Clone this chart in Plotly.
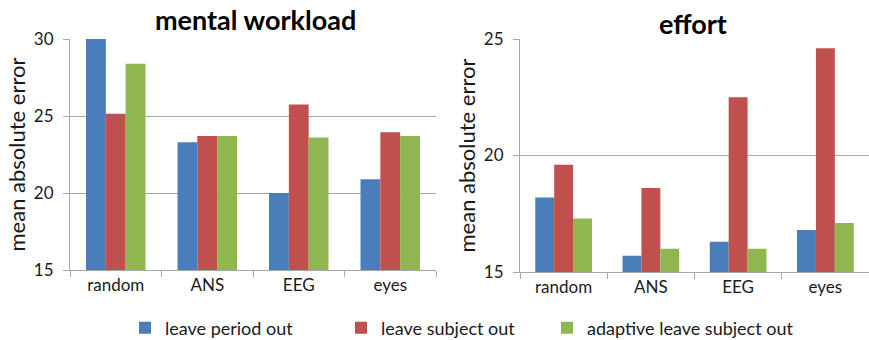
import plotly.graph_objects as go

categories = ["random", "ANS", "EEG", "eyes"]
series_names = ["leave period out", "leave subject out", "adaptive leave subject out"]
colors = ["#4a7ebb", "#c0504d", "#8fb651"]

workload_period = [30.0, 23.3, 20.0, 20.9]
workload_subject = [25.15, 23.7, 25.75, 23.95]
workload_adaptive = [28.4, 23.7, 23.6, 23.7]

effort_period = [18.2, 15.7, 16.3, 16.8]
effort_subject = [19.6, 18.6, 22.5, 24.6]
effort_adaptive = [17.3, 16.0, 16.0, 17.1]

workload = [workload_period, workload_subject, workload_adaptive]
effort = [effort_period, effort_subject, effort_adaptive]

FONT = "Lato"
AXC = "#a8a8a8"
legend_ids = ["legend", "legend2", "legend3"]
legend_x_px = [125, 341, 547]

fig = go.Figure()
for i, name in enumerate(series_names):
    fig.add_trace(go.Bar(x=categories, y=workload[i], name=name, marker_color=colors[i],
                         marker_line_width=0, xaxis="x", yaxis="y", legendgroup=name,
                         legend=legend_ids[i], showlegend=True))
for i, name in enumerate(series_names):
    fig.add_trace(go.Bar(x=categories, y=effort[i], name=name, marker_color=colors[i],
                         marker_line_width=0, xaxis="x2", yaxis="y2", legendgroup=name,
                         legend=legend_ids[i], showlegend=False))

axis_common = dict(showline=True, linecolor=AXC, linewidth=1, ticks="outside", ticklen=6, tickcolor=AXC)
legend_common = dict(orientation="h", y=1-328/340, yanchor="middle", xanchor="left",
                     font=dict(size=18), itemwidth=30, bgcolor="rgba(0,0,0,0)")
fig.update_layout(
    width=869, height=340,
    margin=dict(l=0, r=0, t=0, b=0, autoexpand=False),
    paper_bgcolor="white", plot_bgcolor="white",
    font=dict(family=FONT, color="#1a1a1a"),
    barmode="group", bargap=0.35, bargroupgap=0,
    xaxis=dict(domain=[70/869, 436/869], anchor="y", tickson="boundaries",
               tickfont=dict(size=17), showgrid=False, automargin=False, **axis_common),
    yaxis=dict(domain=[1-270/340, 1-39/340], anchor="x", range=[15, 30], dtick=5,
               tickfont=dict(size=17), showgrid=True, gridcolor=AXC, automargin=False,
               ticklabelstandoff=6,
               zeroline=False, title=dict(text="mean absolute error", font=dict(size=22), standoff=2),
               **axis_common),
    xaxis2=dict(domain=[520/869, 1.0], anchor="y2", tickson="boundaries",
                tickfont=dict(size=17), showgrid=False, automargin=False, **axis_common),
    yaxis2=dict(domain=[1-272/340, 1-39/340], anchor="x2", range=[15, 25], dtick=5,
                tickfont=dict(size=17), showgrid=True, gridcolor=AXC, automargin=False,
                ticklabelstandoff=6,
                zeroline=False, title=dict(text="mean absolute error", font=dict(size=22), standoff=2),
                **axis_common),
    legend=dict(x=legend_x_px[0]/869, **legend_common),
    legend2=dict(x=legend_x_px[1]/869, **legend_common),
    legend3=dict(x=legend_x_px[2]/869, **legend_common),
    annotations=[
        dict(text="<b>mental workload</b>", x=255/869, y=1-19/340, xref="paper", yref="paper",
             xanchor="center", yanchor="middle",
             showarrow=False, font=dict(size=27, family=FONT, color="#000")),
        dict(text="<b>effort</b>", x=693/869, y=1-24/340, xref="paper", yref="paper",
             xanchor="center", yanchor="middle",
             showarrow=False, font=dict(size=27, family=FONT, color="#000")),
    ],
)
fig.write_html("out.html", config={"displayModeBar": False},
               post_script="document.body.style.margin='0';")
